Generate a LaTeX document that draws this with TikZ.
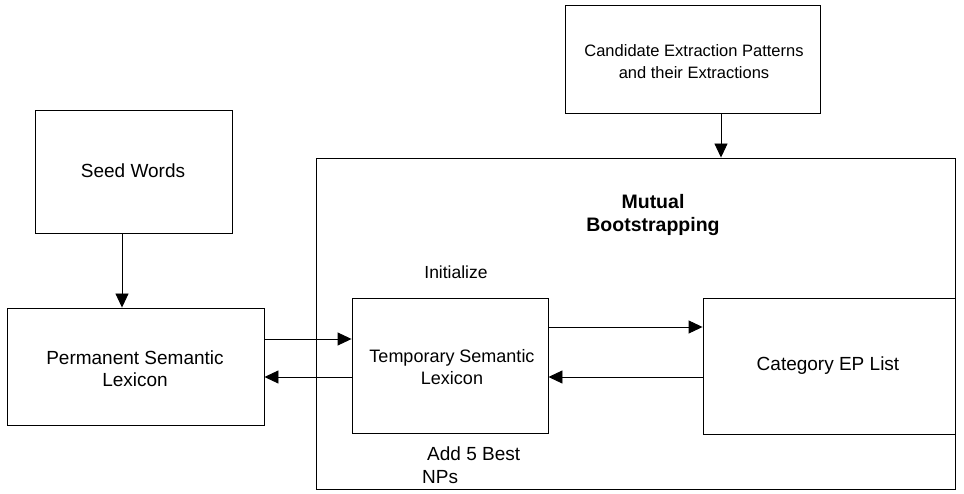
\documentclass[tikz,border=0pt]{standalone}
\usepackage{fontspec}
\setmainfont{Liberation Sans}
\usetikzlibrary{arrows.meta}
\begin{document}
\begin{tikzpicture}[x=1pt,y=-1pt,
  box/.style={draw,line width=0.9pt,inner sep=0pt,minimum width=#1},
  lbl/.style={font=\fontsize{19}{22}\selectfont,align=center,inner sep=0pt},
  arr/.style={line width=0.9pt,-{Triangle[length=14pt,width=13pt]}}]
\useasboundingbox (0,0) rectangle (964,494);
% boxes
\node[box=255pt,minimum height=108pt] (cand) at (692.5,59) {};
\node[box=197pt,minimum height=123pt] (seed) at (133.5,171.5) {};
\node[box=639pt,minimum height=331pt] (mb) at (635.5,323.5) {};
\node[box=257pt,minimum height=117pt] (perm) at (135.5,366.5) {};
\node[box=196pt,minimum height=135pt] (temp) at (450,365.5) {};
\node[box=252pt,minimum height=136pt] (cat) at (829,366) {};
% labels
\node[lbl,font=\fontsize{16.5}{22}\selectfont] at (694,62) {Candidate Extraction Patterns\\and their Extractions};
\node[lbl] at (133,171) {Seed Words};
\node[lbl,font=\fontsize{19.5}{23}\selectfont\bfseries] at (653,215) {Mutual\\Bootstrapping};
\node[lbl] at (135,369) {Permanent Semantic\\Lexicon};
\node[lbl,font=\fontsize{18}{22}\selectfont] at (452,367) {Temporary Semantic\\Lexicon};
\node[lbl] at (828,366) {Category EP List};
\node[lbl,font=\fontsize{17.5}{22}\selectfont] at (456,272) {Initialize};
\node[lbl,anchor=base west] at (427,460) {Add 5 Best};
\node[lbl,anchor=base west] at (422,483) {NPs};
% connectors
\draw[arr] (seed.south -| 122,0) -- (perm.north -| 122,0);
\draw[arr] (cand.south -| 721,0) -- (mb.north -| 721,0);
\draw[arr] (perm.east |- 0,339) -- (temp.west |- 0,339);
\draw[arr] (temp.west |- 0,377) -- (perm.east |- 0,377);
\draw[arr] (temp.east |- 0,327) -- (cat.west |- 0,327);
\draw[arr] (cat.west |- 0,377) -- (temp.east |- 0,377);
\end{tikzpicture}
\end{document}
